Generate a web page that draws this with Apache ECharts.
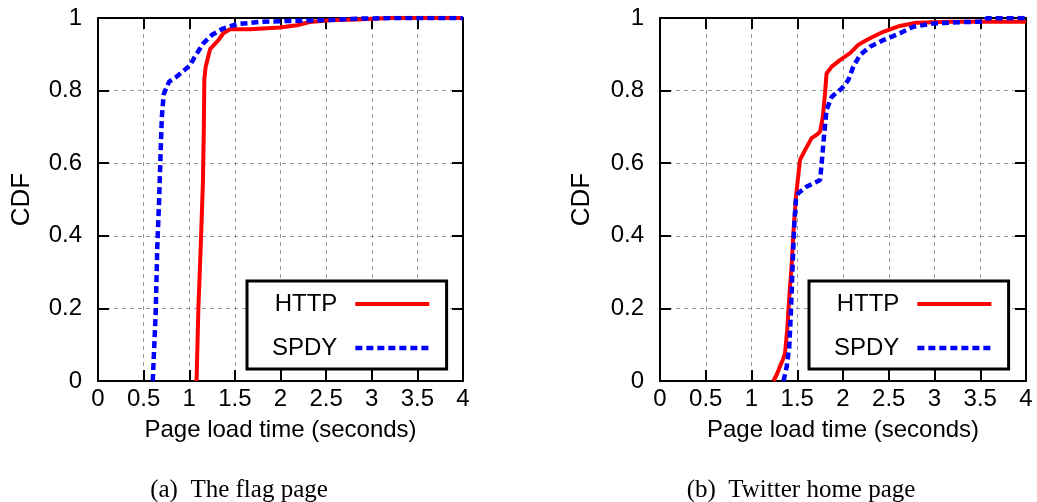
<!DOCTYPE html>
<html>
<head>
<meta charset="utf-8">
<title>Page load time CDF: HTTP vs SPDY</title>
<script src="https://cdn.jsdelivr.net/npm/echarts@6/dist/echarts.min.js"></script>
<style>
  html, body { margin: 0; padding: 0; background: #fff; }
  #chart { width: 1037px; height: 502px; }
</style>
</head>
<body>
<div id="chart"></div>
<script>
// Page load time (seconds) vs cumulative fraction of loads
const seriesNames = ['HTTP', 'SPDY'];
const xTicks = ['0', '0.5', '1', '1.5', '2', '2.5', '3', '3.5', '4'];
const yTicks = ['0', '0.2', '0.4', '0.6', '0.8', '1'];
const captions = ['(a)\u2002The flag page', '(b)\u2002Twitter home page'];

// (a) the flag page
const flagHttp = [
  [1.08, 0], [1.10, 0.2], [1.13, 0.4], [1.15, 0.55], [1.16, 0.7], [1.165, 0.83],
  [1.18, 0.866], [1.23, 0.915], [1.32, 0.939], [1.373, 0.958], [1.447, 0.969],
  [1.67, 0.969], [1.99, 0.974], [2.18, 0.98], [2.32, 0.989], [2.54, 0.994],
  [2.83, 0.996], [3.2, 1.0], [4.0, 1.0]
];
const flagSpdy = [
  [0.60, 0], [0.632, 0.186], [0.65, 0.37], [0.67, 0.5], [0.687, 0.636], [0.70, 0.728],
  [0.72, 0.79], [0.78, 0.825], [0.86, 0.838], [0.95, 0.857], [1.01, 0.87],
  [1.06, 0.893], [1.154, 0.93], [1.246, 0.953], [1.37, 0.971], [1.52, 0.983],
  [1.81, 0.99], [2.47, 0.994], [2.83, 0.998], [3.2, 1.0], [4.0, 1.0]
];

// (b) Twitter home page
const twitterHttp = [
  [1.24, 0], [1.28, 0.02], [1.311, 0.04], [1.345, 0.06], [1.366, 0.076], [1.39, 0.14],
  [1.413, 0.232], [1.44, 0.324], [1.46, 0.416], [1.486, 0.508], [1.51, 0.563],
  [1.53, 0.609], [1.585, 0.636], [1.657, 0.669], [1.71, 0.678], [1.75, 0.687],
  [1.78, 0.728], [1.803, 0.79], [1.82, 0.847], [1.877, 0.866], [1.967, 0.884],
  [2.077, 0.903], [2.167, 0.926], [2.295, 0.944], [2.44, 0.962], [2.62, 0.978],
  [2.80, 0.987], [3.17, 0.99], [3.53, 0.99], [4.0, 0.99]
];
const twitterSpdy = [
  [1.35, 0], [1.385, 0.04], [1.413, 0.095], [1.43, 0.186], [1.45, 0.324], [1.468, 0.434],
  [1.486, 0.499], [1.51, 0.517], [1.60, 0.535], [1.75, 0.554], [1.77, 0.609],
  [1.795, 0.682], [1.82, 0.747], [1.877, 0.783], [1.986, 0.806], [2.058, 0.829],
  [2.113, 0.866], [2.186, 0.898], [2.295, 0.921], [2.44, 0.939], [2.623, 0.958],
  [2.77, 0.976], [2.99, 0.985], [3.35, 0.989], [3.53, 0.99], [3.57, 0.999], [4.0, 1.0]
];

const SANS = 'Liberation Sans, Arial, Helvetica, sans-serif';
const SERIF = 'Liberation Serif, Times New Roman, serif';
const RED = '#ff0000';
const BLUE = '#0000ff';
const HTTP_LINE = { color: RED, width: 4, type: 'solid' };
const SPDY_LINE = { color: BLUE, width: 4.5, type: [7, 4] };

const grids = [
  { left: 98, top: 18, width: 365, height: 363 },
  { left: 660, top: 18, width: 366, height: 363 }
];
const legendBoxes = [
  { left: 247, top: 281 },
  { left: 809, top: 281 }
];

const frameLine = { show: true, onZero: false, lineStyle: { color: '#000', width: 2 } };
const innerTick = { show: true, inside: true, length: 11, lineStyle: { color: '#000', width: 2 } };
const gridDash = { show: true, lineStyle: { color: '#9a9a9a', width: 1, type: [4, 4] } };

const xAxes = [];
const yAxes = [];
grids.forEach((g, i) => {
  const xBase = { type: 'value', gridIndex: i, min: 0, max: 4, interval: 0.5 };
  const yBase = { type: 'value', gridIndex: i, min: 0, max: 1, interval: 0.2 };
  xAxes.push(Object.assign({}, xBase, {
    position: 'bottom',
    name: 'Page load time (seconds)',
    nameLocation: 'middle',
    nameGap: 37,
    nameTextStyle: { fontFamily: SANS, fontSize: 24, color: '#000' },
    axisLine: frameLine,
    axisTick: innerTick,
    splitLine: gridDash,
    axisLabel: {
      margin: 6, fontFamily: SANS, fontSize: 24, color: '#000',
      formatter: (v) => xTicks[Math.round(v / 0.5)]
    }
  }));
  xAxes.push(Object.assign({}, xBase, {
    position: 'top',
    axisLine: frameLine,
    axisTick: innerTick,
    splitLine: { show: false },
    axisLabel: { show: false }
  }));
  yAxes.push(Object.assign({}, yBase, {
    position: 'left',
    name: 'CDF',
    nameLocation: 'middle',
    nameRotate: 90,
    nameGap: i === 0 ? 63 : 65,
    nameTextStyle: { fontFamily: SANS, fontSize: 26, color: '#000' },
    axisLine: frameLine,
    axisTick: innerTick,
    splitLine: gridDash,
    axisLabel: {
      margin: 16, fontFamily: SANS, fontSize: 24, color: '#000',
      formatter: (v) => yTicks[Math.round(v / 0.2)]
    }
  }));
  yAxes.push(Object.assign({}, yBase, {
    position: 'right',
    axisLine: frameLine,
    axisTick: innerTick,
    splitLine: { show: false },
    axisLabel: { show: false }
  }));
});

function lineSeries(name, gridIdx, data) {
  const isHttp = name === 'HTTP';
  return {
    name: name,
    type: 'line',
    xAxisIndex: gridIdx * 2,
    yAxisIndex: gridIdx * 2,
    data: data,
    symbol: 'none',
    showSymbol: false,
    clip: true,
    lineStyle: isHttp ? HTTP_LINE : SPDY_LINE,
    itemStyle: { color: isHttp ? RED : BLUE },
    z: isHttp ? 3 : 4
  };
}

const option = {
  animation: false,
  backgroundColor: '#fff',
  grid: grids,
  xAxis: xAxes,
  yAxis: yAxes,
  title: captions.map((c, i) => ({
    text: c, left: i === 0 ? 234 : 796, top: 473, textAlign: 'center',
    textStyle: { fontFamily: SERIF, fontSize: 25, fontWeight: 'normal', color: '#000' }
  })),
  legend: legendBoxes.map((b) => ({
    data: [
      { name: seriesNames[0], lineStyle: HTTP_LINE, itemStyle: { opacity: 0 } },
      { name: seriesNames[1], lineStyle: SPDY_LINE, itemStyle: { opacity: 0 } }
    ],
    orient: 'vertical',
    align: 'right',
    left: b.left,
    top: b.top,
    padding: [11, 15, 9, 25],
    itemGap: 20,
    itemWidth: 74,
    itemHeight: 14,
    borderColor: '#000',
    borderWidth: 3,
    borderRadius: 0,
    backgroundColor: '#fff',
    selectedMode: false,
    itemStyle: { opacity: 0, borderWidth: 0 },
    textStyle: { fontFamily: SANS, fontSize: 24, color: '#000', padding: [0, 13, 0, 0] }
  })),
  series: [
    lineSeries('HTTP', 0, flagHttp),
    lineSeries('SPDY', 0, flagSpdy),
    lineSeries('HTTP', 1, twitterHttp),
    lineSeries('SPDY', 1, twitterSpdy)
  ]
};

const chart = echarts.init(document.getElementById('chart'), null, { renderer: 'canvas' });
chart.setOption(option);
</script>
</body>
</html>
